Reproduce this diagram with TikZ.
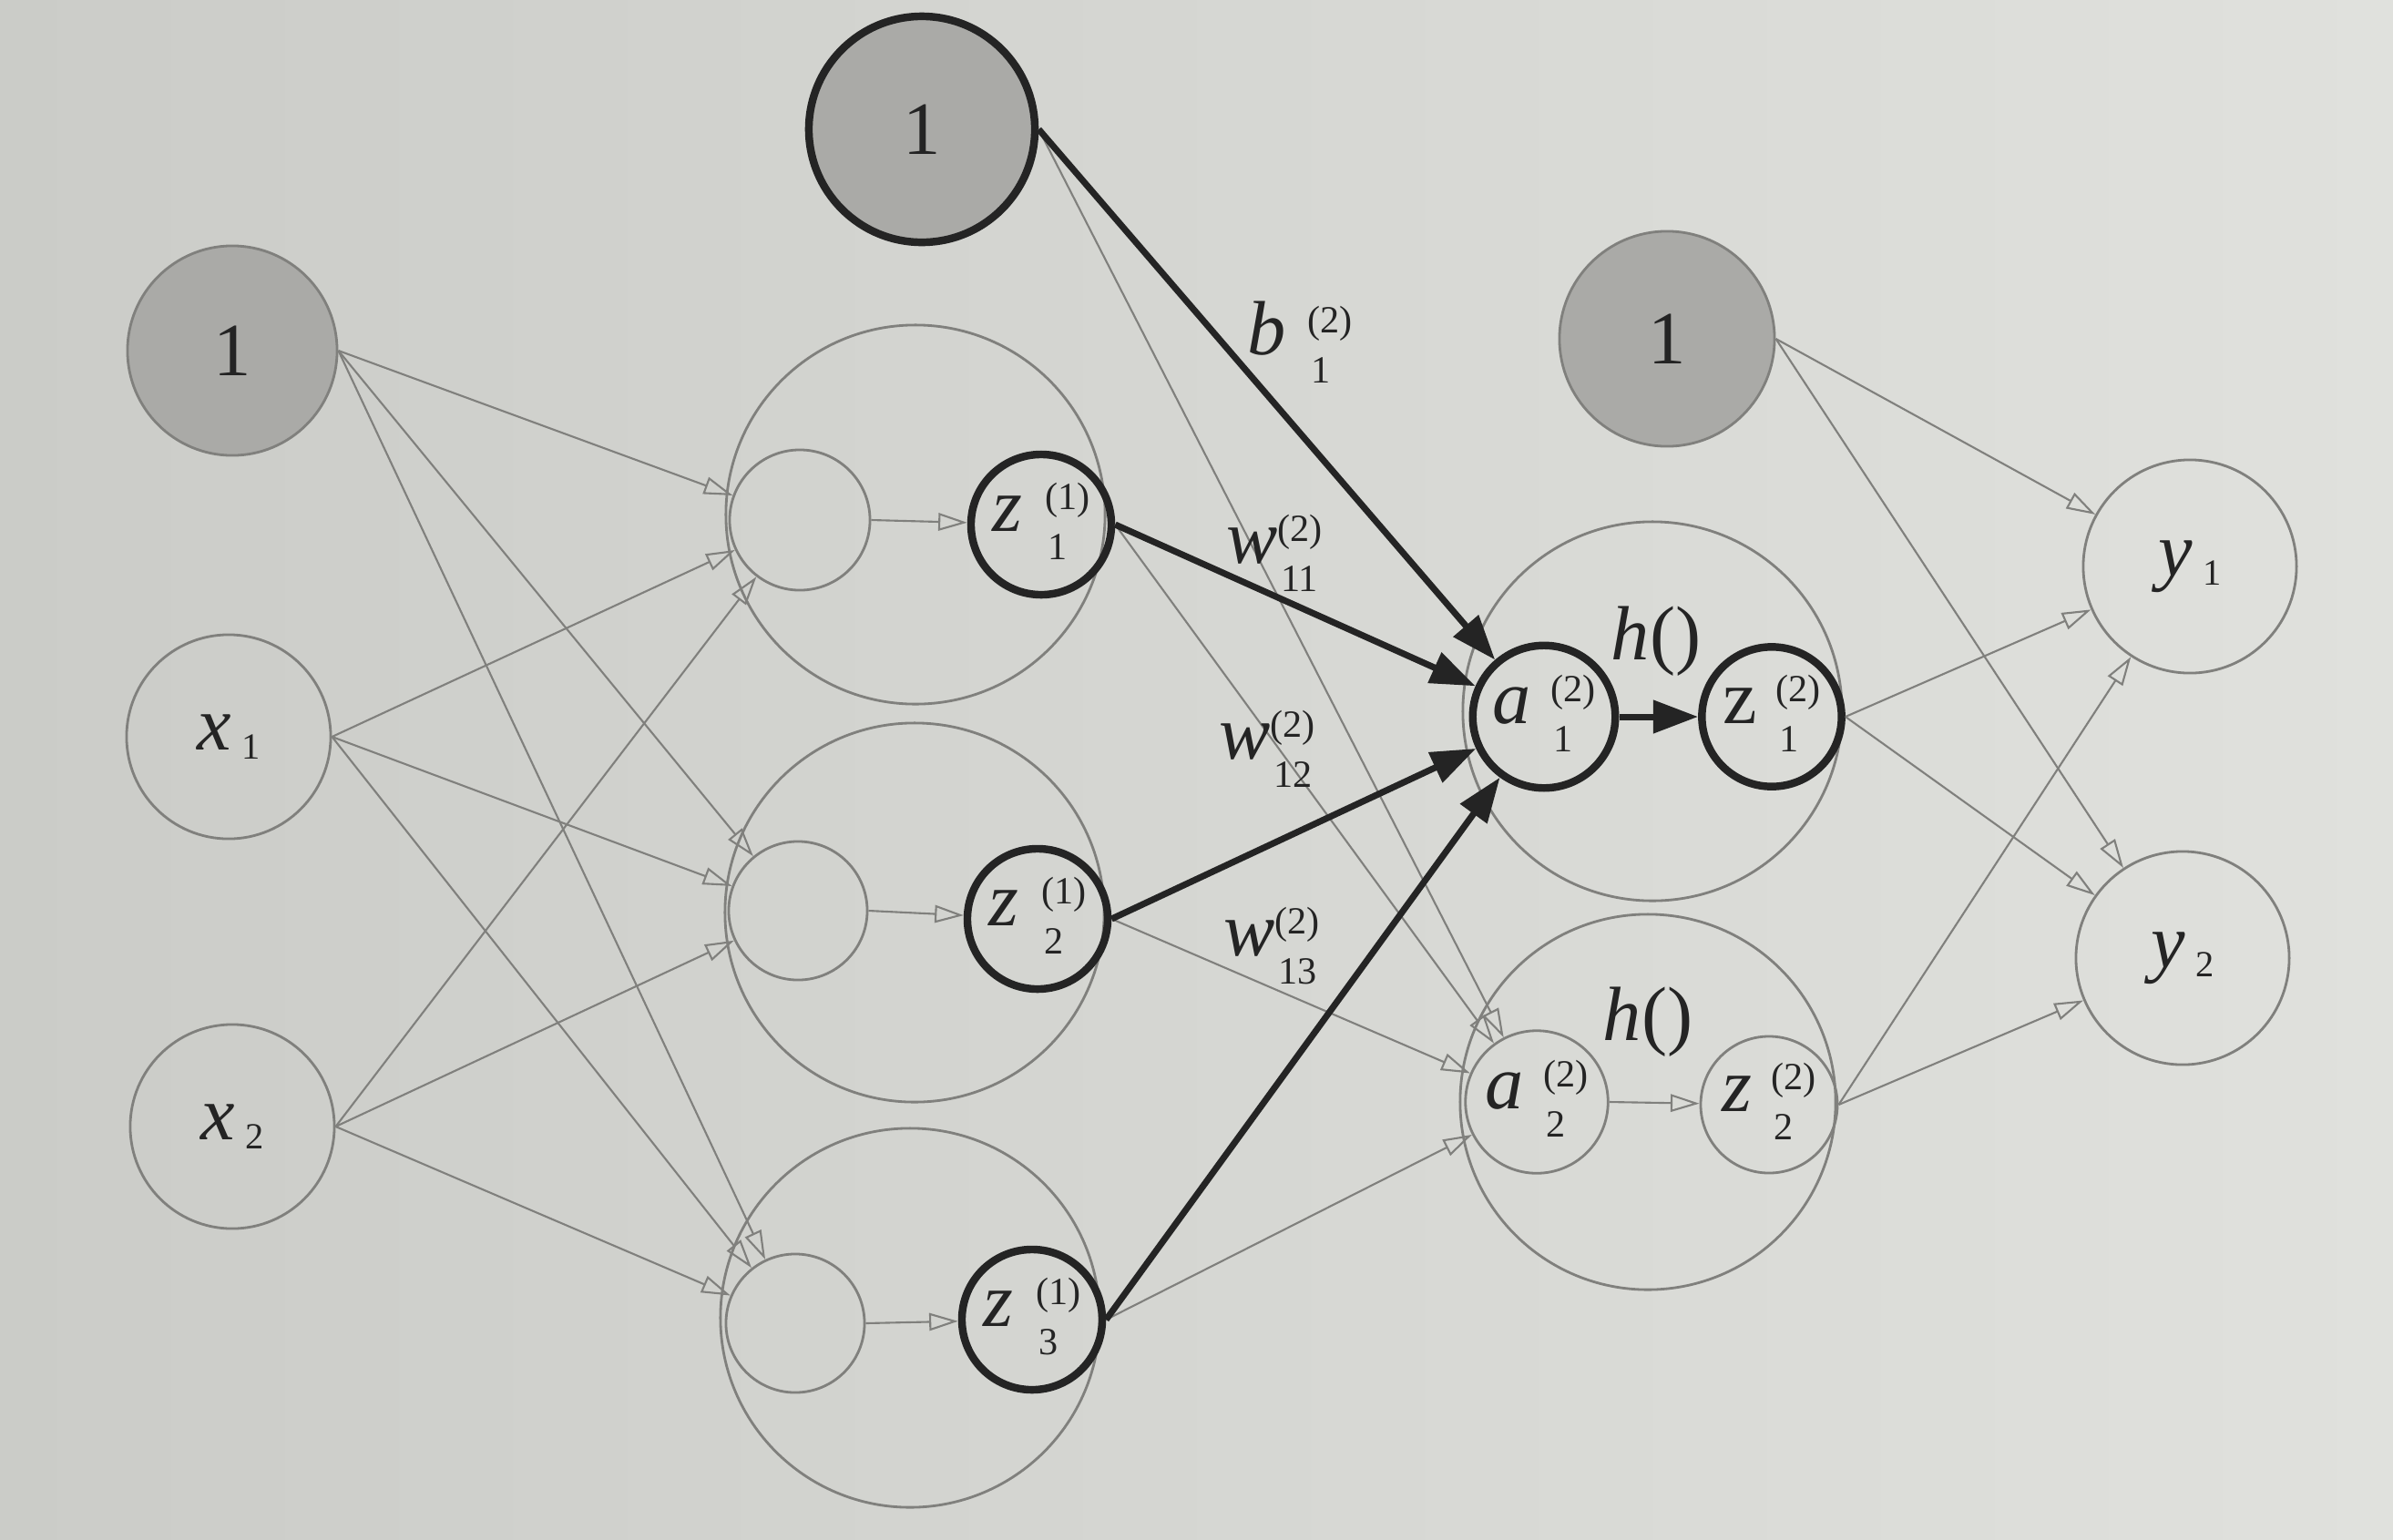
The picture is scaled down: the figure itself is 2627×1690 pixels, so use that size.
\documentclass[tikz,border=0pt]{standalone}
\usepackage{fontspec}
\setmainfont{Liberation Serif}
\usetikzlibrary{arrows.meta}
\definecolor{bgl}{RGB}{203,204,200}
\definecolor{bgr}{RGB}{224,225,221}
\definecolor{ln}{RGB}{128,128,125}
\definecolor{bfill}{RGB}{170,170,167}
\definecolor{ink}{RGB}{36,36,36}
\newcommand\ssl[4][7pt]{#2\hspace{#1}\raisebox{-0.8pt}{\fontsize{12}{15.5}\selectfont\begin{tabular}{@{}l@{}}#3\\\hspace{1pt}#4\end{tabular}}}
\newcommand\xsub[2]{\textit{#1}\hspace{3.3pt}\raisebox{-2.8pt}{\fontsize{11.5}{12}\selectfont #2}}
\begin{document}
\begin{tikzpicture}[x=0.01cm,y=-0.01cm,
  gc/.style={circle, draw=ln, line width=0.8pt, inner sep=0pt, text=ink, font=\fontsize{24}{28}\selectfont},
  bias/.style={gc, fill=bfill, font=\fontsize{23.5}{26}\selectfont},
  tk/.style={circle, draw=ink, line width=2.4pt, inner sep=0pt, text=ink, font=\fontsize{24}{28}\selectfont},
  big/.style={circle, draw=ln, line width=0.8pt, inner sep=0pt, minimum size=4.16cm},
  ga/.style={draw=ln, line width=0.6pt, -{Triangle[open, length=9pt, width=5.5pt]}},
  ta/.style={draw=ink, line width=2pt, -{Triangle[length=14pt, width=10pt]}},
  lbl/.style={text=ink, font=\fontsize{24}{28}\selectfont, inner sep=0pt}]
\useasboundingbox (0,0) rectangle (2627,1690);
\shade[left color=bgl, right color=bgr] (0,0) rectangle (2627,1690);
% big circles
\node[big] (H1) at (1005,565) {};
\node[big] (H2) at (1004,1002) {};
\node[big] (H3) at (999,1447) {};
\node[big] (G1) at (1814,781) {};
\node[big, minimum size=4.12cm] (G2) at (1809,1210) {};
% input layer
\node[bias, minimum size=2.30cm] (b1) at (255,385) {1};
\node[gc, minimum size=2.24cm] (x1) at (251,809) {\xsub{x}{1}};
\node[gc, minimum size=2.24cm] (x2) at (255,1237) {\xsub{x}{2}};
% hidden layer 1
\node[tk, fill=bfill, minimum size=2.48cm, font=\fontsize{23.5}{26}\selectfont] (b2) at (1012,142) {1};
\node[gc, minimum size=1.54cm] (i1) at (878,571) {};
\node[gc, minimum size=1.52cm] (i2) at (876,1000) {};
\node[gc, minimum size=1.52cm] (i3) at (873,1453) {};
\node[tk, minimum size=1.54cm] (z1) at (1143,576) {\ssl{\textit{z}}{(1)}{1}};
\node[tk, minimum size=1.54cm] (z2) at (1139,1009) {\ssl{\textit{z}}{(1)}{2}};
\node[tk, minimum size=1.54cm] (z3) at (1133,1449) {\ssl{\textit{z}}{(1)}{3}};
% hidden layer 2
\node[bias, minimum size=2.36cm] (b3) at (1830,372) {1};
\node[tk, minimum size=1.48cm] (a1) at (1695,787) {\ssl[6pt]{\textit{a}}{(2)}{1}};
\node[tk, minimum size=1.50cm] (c1) at (1945,787) {\ssl[6pt]{z}{(2)}{1}};
\node[gc, minimum size=1.42cm] (a2) at (1687,1210) {\ssl[6pt]{\textit{a}}{(2)}{2}};
\node[gc, minimum size=1.48cm] (c2) at (1942,1213) {\ssl[6pt]{\textit{z}}{(2)}{2}};
\node[lbl] (h1) at (1818,704) {\textit{h}()};
\node[lbl] (h2) at (1809,1122) {\textit{h}()};
% output layer
\node[gc, minimum size=2.34cm] (y1) at (2404,622) {\xsub{y}{1}};
\node[gc, minimum size=2.34cm] (y2) at (2396,1052) {\xsub{y}{2}};
% gray connectors
\foreach \s in {b1,x1,x2} \foreach \t in {i1,i2,i3} \draw[ga] (\s.east) -- (\t);
\draw[ga] (i1.east) -- (z1);
\draw[ga] (i2.east) -- (z2);
\draw[ga] (i3.east) -- (z3);
\foreach \s in {b2,z1,z2,z3} \draw[ga] (\s.east) -- (a2);
\draw[ga] (a2.east) -- (c2);
\foreach \s in {b3,c1,c2} \foreach \t in {y1,y2} \draw[ga] (\s.east) -- (\t);
% thick connectors
\foreach \s in {b2,z1,z2,z3} \draw[ta] (\s.east) -- (a1);
\draw[ta] (a1.east) -- (c1);
% weight labels
\node[lbl] (lb) at (1427,382) {\ssl{\textit{b}}{(2)}{1}};
\node[lbl] (lw1) at (1399,611) {\ssl[0pt]{\textit{w}}{(2)}{11}};
\node[lbl] (lw2) at (1391,826) {\ssl[0pt]{\textit{w}}{(2)}{12}};
\node[lbl] (lw3) at (1396,1042) {\ssl[0pt]{\textit{w}}{(2)}{13}};
\end{tikzpicture}
\end{document}
